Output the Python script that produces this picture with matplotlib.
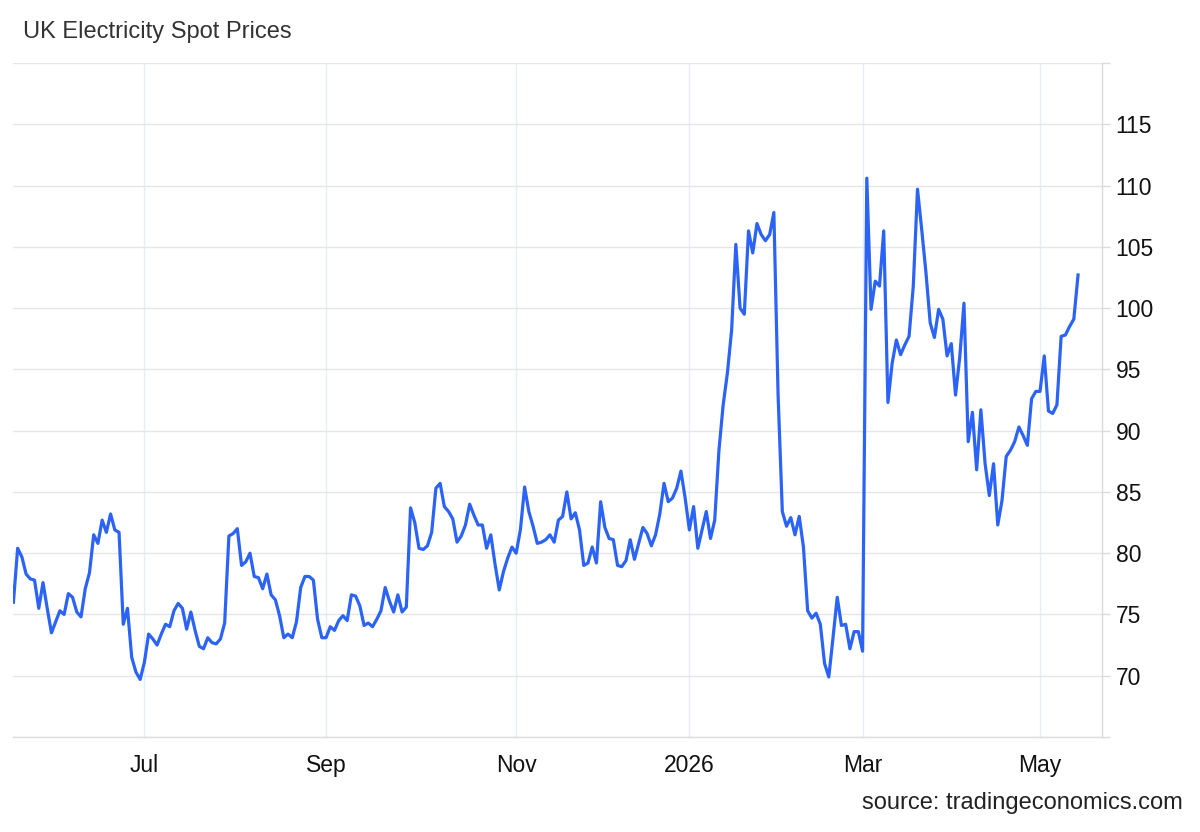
import numpy as np
import pandas as pd
import matplotlib
matplotlib.use("Agg")
import matplotlib.pyplot as plt

# UK electricity spot prices, one value per UK trading day
start_date = "2025-05-16"
uk_holidays = ["2025-05-26", "2025-08-25", "2025-12-25", "2025-12-26",
               "2026-01-01", "2026-04-03", "2026-04-06", "2026-05-04"]

prices = [
    76.0, 80.4, 79.7, 78.3, 77.9, 77.8, 75.5, 77.6, 75.5, 73.5,
    74.4, 75.3, 75.0, 76.7, 76.4, 75.2, 74.8, 77.1, 78.4, 81.5,
    80.8, 82.7, 81.7, 83.2, 81.9, 81.7, 74.2, 75.5, 71.5, 70.3,
    69.7,
    # July 2025 onwards
    71.1, 73.4, 73.0, 72.5, 73.4, 74.2, 74.0, 75.3, 75.9, 75.5,
    73.8, 75.2, 73.7, 72.4, 72.2, 73.1, 72.7, 72.6, 73.0, 74.3,
    81.4, 81.6, 82.0, 79.0, 79.3, 80.0, 78.1, 78.0, 77.1, 78.3,
    76.6, 76.2, 74.9, 73.1, 73.4, 73.1, 74.4, 77.2, 78.1, 78.1,
    77.8, 74.6, 73.1, 73.1, 74.0, 73.7, 74.5, 74.9, 74.5, 76.6,
    76.5, 75.7, 74.1, 74.3, 74.0, 74.6, 75.3, 77.2, 76.1, 75.2,
    76.6, 75.2, 75.6, 83.7, 82.5, 80.4, 80.3, 80.6, 81.7, 85.3,
    85.7, 83.8, 83.4, 82.8, 80.9, 81.4, 82.3, 84.0, 83.1, 82.3,
    82.3, 80.4, 81.5, 79.1, 77.0, 78.5, 79.6, 80.5, 80.0, 81.9,
    85.4, 83.4, 82.2, 80.8, 80.9, 81.1, 81.5, 80.9, 82.7, 83.0,
    85.0, 82.8, 83.3, 81.9, 79.0, 79.2, 80.5, 79.2, 84.2, 82.1,
    81.2, 81.1, 79.0, 78.9, 79.4, 81.1, 79.5, 80.8, 82.1, 81.6,
    80.6, 81.5, 83.2, 85.7, 84.2, 84.5, 85.3, 86.7, 84.5, 81.9,
    83.8, 80.4, 81.9, 83.4, 81.2, 82.7, 88.4, 92.1, 94.7, 98.2,
    105.2, 100.0, 99.5, 106.3, 104.5, 106.9, 106.0, 105.5, 106.0, 107.8,
    92.9, 83.4, 82.2, 82.9, 81.5, 83.0, 80.5, 75.3, 74.7, 75.1,
    74.2, 71.0, 69.9, 73.1, 76.4, 74.1, 74.2, 72.2, 73.6, 73.6,
    72.0, 110.6, 99.9, 102.2, 101.8, 106.3, 92.3, 95.5, 97.4, 96.2,
    97.0, 97.7, 101.8, 109.7, 106.4, 102.9, 98.8, 97.6, 99.9, 99.1,
    96.1, 97.1, 92.9, 96.0, 100.4, 89.1, 91.5, 86.8, 91.7, 87.3,
    84.7, 87.3, 82.3, 84.3, 87.9, 88.4, 89.1, 90.3, 89.6, 88.8,
    92.6, 93.2, 93.2, 96.1, 91.6, 91.4, 92.1, 97.7, 97.8, 98.5,
    99.1, 102.7,
]

month_starts = ["2025-07-01", "2025-09-01", "2025-11-01",
                "2026-01-01", "2026-03-01", "2026-05-01"]
month_labels = ["Jul", "Sep", "Nov", "2026", "Mar", "May"]

y_ticks = [65, 70, 75, 80, 85, 90, 95, 100, 105, 110, 115, 120]
y_labels = ["", "70", "75", "80", "85", "90", "95", "100", "105", "110", "115", ""]

# trading-day calendar -> ordinal x axis (like the original chart)
dates = pd.bdate_range(start=start_date, periods=len(prices), freq="C",
                       holidays=uk_holidays)
x = np.arange(len(prices))
tick_pos = [dates.searchsorted(pd.Timestamp(m)) for m in month_starts]

plt.rcParams["font.family"] = ["Liberation Sans", "DejaVu Sans"]

fig = plt.figure(figsize=(12, 8.32), dpi=100)
ax = fig.add_axes([13 / 1200, 95 / 832, 1088.7 / 1200, 674 / 832])

ax.plot(x, prices, color="#2b63f6", linewidth=2.3, solid_joinstyle="round", zorder=3)

ax.set_xlim(-0.1, 257.6)
ax.set_ylim(65, 120)

ax.set_xticks(tick_pos)
ax.set_xticklabels(month_labels)
ax.set_yticks(y_ticks)
ax.set_yticklabels(y_labels)

ax.yaxis.tick_right()
ax.tick_params(axis="y", length=6, width=1, color="#dcdcdc", pad=4,
               labelsize=16.5, labelcolor="#111111")
ax.tick_params(axis="x", length=0, pad=12, labelsize=16.5, labelcolor="#111111")

ax.yaxis.grid(True, color="#e6e6e6", linewidth=1)
ax.xaxis.grid(True, color="#e6edf5", linewidth=1)
ax.set_axisbelow(True)

for side in ["left", "top"]:
    ax.spines[side].set_visible(False)
ax.spines["bottom"].set_color("#dcdcdc")
ax.spines["bottom"].set_linewidth(1)
ax.spines["right"].set_color("#d9d9d9")
ax.spines["right"].set_linewidth(1)

fig.text(23 / 1200, 1 - 32 / 832, "UK Electricity Spot Prices",
         fontsize=17, color="#333333", ha="left", va="center")
fig.text(1183 / 1200, 1 - 803 / 832, "source: tradingeconomics.com",
         fontsize=17, color="#222222", ha="right", va="center")

fig.savefig("out.png", dpi=100)
plt.close(fig)
